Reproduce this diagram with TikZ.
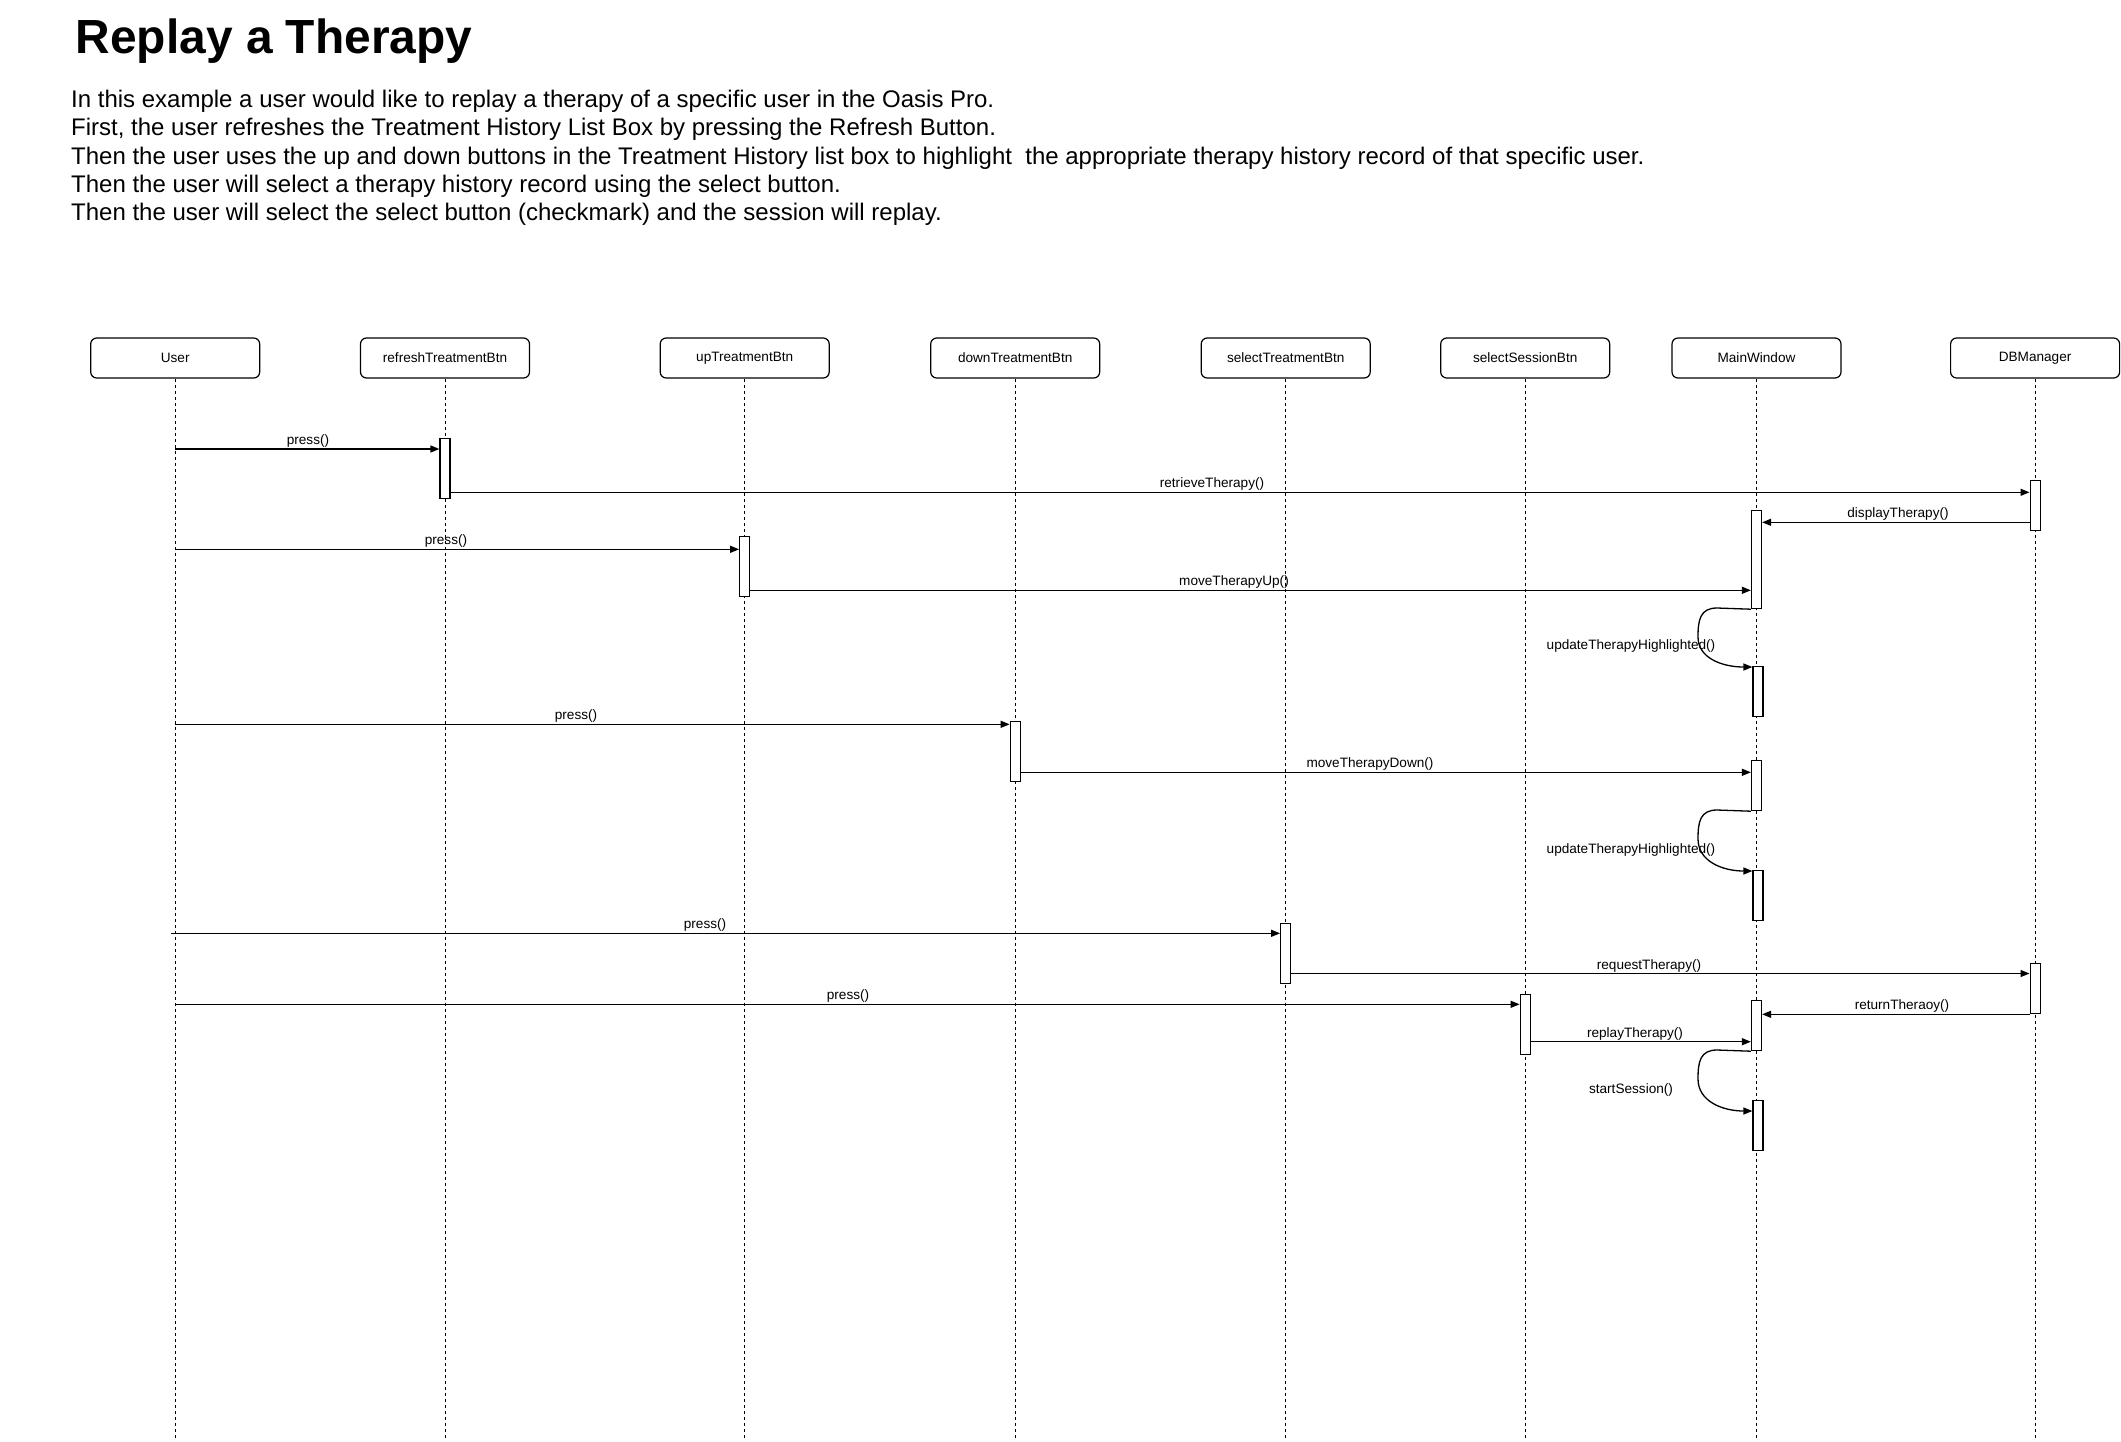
\documentclass[tikz,border=0pt]{standalone}
\usepackage{fontspec}
\setmainfont{Liberation Sans}
\usetikzlibrary{arrows.meta,calc}
\newcommand{\lblfont}{\fontsize{13.6}{16}\selectfont}
\newcommand{\descfont}{\fontsize{24}{28}\selectfont}
\begin{document}
\begin{tikzpicture}[x=1pt,y=-1pt,
  obj/.style={draw, rounded corners=6pt, minimum width=169pt, minimum height=40pt, line width=1.2pt, font=\lblfont, inner sep=0pt},
  life/.style={dash pattern=on 3pt off 3pt, line width=1pt},
  actbar/.style={draw, fill=white, line width=1.2pt, minimum width=10pt, inner sep=0pt, anchor=north},
  msg/.style={-{Triangle[length=9pt,width=7pt]}, line width=1.3pt},
  lab/.style={font=\lblfont, anchor=base, inner sep=0pt},
  desc/.style={font=\descfont, anchor=base west, inner sep=0pt}]
\fill[white] (0,0) rectangle (2121,1441);
\useasboundingbox (0,0) rectangle (2121,1441);

% title and description
\node[anchor=base west, inner sep=0pt, font=\fontsize{47.9}{57}\selectfont\bfseries] (title) at (75.5,53.3) {Replay a Therapy};
\node[desc] (d1) at (71,107.3) {In this example a user would like to replay a therapy of a specific user in the Oasis Pro.};
\node[desc] (d2) at (71,135.7) {First, the user refreshes the Treatment History List Box by pressing the Refresh Button.};
\node[desc] (d3) at (71,164) {Then the user uses the up and down buttons in the Treatment History list box to highlight\ \ the appropriate therapy history record of that specific user.};
\node[desc] (d4) at (71,192.4) {Then the user will select a therapy history record using the select button.};
\node[desc] (d5) at (71,220.7) {Then the user will select the select button (checkmark) and the session will replay.};

% objects
\node[obj] (User) at (175.2,358) {User};
\node[obj] (Refresh) at (445,358) {refreshTreatmentBtn};
\node[obj] (Up) at (744.7,358) {upTreatmentBtn};
\node[obj] (Down) at (1015.2,358) {downTreatmentBtn};
\node[obj] (SelT) at (1285.7,358) {selectTreatmentBtn};
\node[obj] (SelS) at (1525.2,358) {selectSessionBtn};
\node[obj] (MW) at (1756.5,358) {MainWindow};
\node[obj] (DB) at (2035.1,358) {DBManager};

% lifelines
\foreach \n in {User,Refresh,Up,Down,SelT,SelS,MW,DB}{
  \draw[life] (\n.south) -- (\n.south |- 0,1438);
}

% activation bars
\node[actbar, minimum height=60pt] (r1) at (445,438) {};
\node[actbar, minimum height=50pt] (db1) at (2035.1,480) {};
\node[actbar, minimum height=98pt] (mw1) at (1756.5,510) {};
\node[actbar, minimum height=60pt] (up1) at (744.7,536) {};
\node[actbar, minimum height=50pt] (mw2) at (1758,666) {};
\node[actbar, minimum height=60pt] (dn1) at (1015.2,721) {};
\node[actbar, minimum height=50pt] (mw3) at (1756.5,760) {};
\node[actbar, minimum height=50pt] (mw4) at (1758,870) {};
\node[actbar, minimum height=60pt] (st1) at (1285.7,923) {};
\node[actbar, minimum height=50pt] (db2) at (2035.1,963) {};
\node[actbar, minimum height=60pt] (ss1) at (1525.2,994) {};
\node[actbar, minimum height=50pt] (mw5) at (1756.5,1000) {};
\node[actbar, minimum height=50pt] (mw6) at (1758,1100) {};

% messages
\draw[msg] (User |- 0,449) -- (r1.west |- 0,449);
\node[lab] (l1) at (308,444.5) {press()};

\draw[msg] (r1.east |- 0,492.3) -- (db1.west |- 0,492.3);
\node[lab] (l2) at (1212,487.8) {retrieveTherapy()};

\draw[msg] (db1.west |- 0,522.3) -- (mw1.east |- 0,522.3);
\node[lab] (l3) at (1898,517.8) {displayTherapy()};

\draw[msg] (User |- 0,549.3) -- (up1.west |- 0,549.3);
\node[lab] (l4) at (446,544.8) {press()};

\draw[msg] (up1.east |- 0,590.3) -- (mw1.west |- 0,590.3);
\node[lab] (l5) at (1234,585.8) {moveTherapyUp()};

\draw[msg] (mw1.south west) -- (1717,608) .. controls (1700,608) and (1698,620) .. (1698,637) .. controls (1698,658) and (1722,667) .. (mw2.west |- 0,667);
\node[lab] (l6) at (1631,649) {updateTherapyHighlighted()};

\draw[msg] (User |- 0,724.3) -- (dn1.west |- 0,724.3);
\node[lab] (l7) at (576,719.8) {press()};

\draw[msg] (dn1.east |- 0,772.3) -- (mw3.west |- 0,772.3);
\node[lab] (l8) at (1370,767.8) {moveTherapyDown()};

\draw[msg] (mw3.south west) -- (1717,810) .. controls (1700,810) and (1698,822) .. (1698,839) .. controls (1698,861) and (1722,871) .. (mw4.west |- 0,871);
\node[lab] (l9) at (1631,853) {updateTherapyHighlighted()};

\coordinate (p10) at ($(User |- 0,933.3)+(-4,0)$);
\draw[msg] (p10) -- (st1.west |- 0,933.3);
\node[lab] (l10) at (705,928.8) {press()};

\draw[msg] (st1.east |- 0,973.5) -- (db2.west |- 0,973.5);
\node[lab] (l11) at (1649,969) {requestTherapy()};

\draw[msg] (User |- 0,1004.3) -- (ss1.west |- 0,1004.3);
\node[lab] (l12) at (848,999.8) {press()};

\draw[msg] (db2.west |- 0,1014.3) -- (mw5.east |- 0,1014.3);
\node[lab] (l13) at (1902,1009.8) {returnTheraoy()};

\draw[msg] (ss1.east |- 0,1041.7) -- (mw5.west |- 0,1041.7);
\node[lab] (l14) at (1635,1037.2) {replayTherapy()};

\draw[msg] (mw5.south west) -- (1717,1050) .. controls (1700,1050) and (1698,1062) .. (1698,1079) .. controls (1698,1101) and (1722,1111) .. (mw6.west |- 0,1111);
\node[lab] (l15) at (1631,1093) {startSession()};
\end{tikzpicture}
\end{document}
